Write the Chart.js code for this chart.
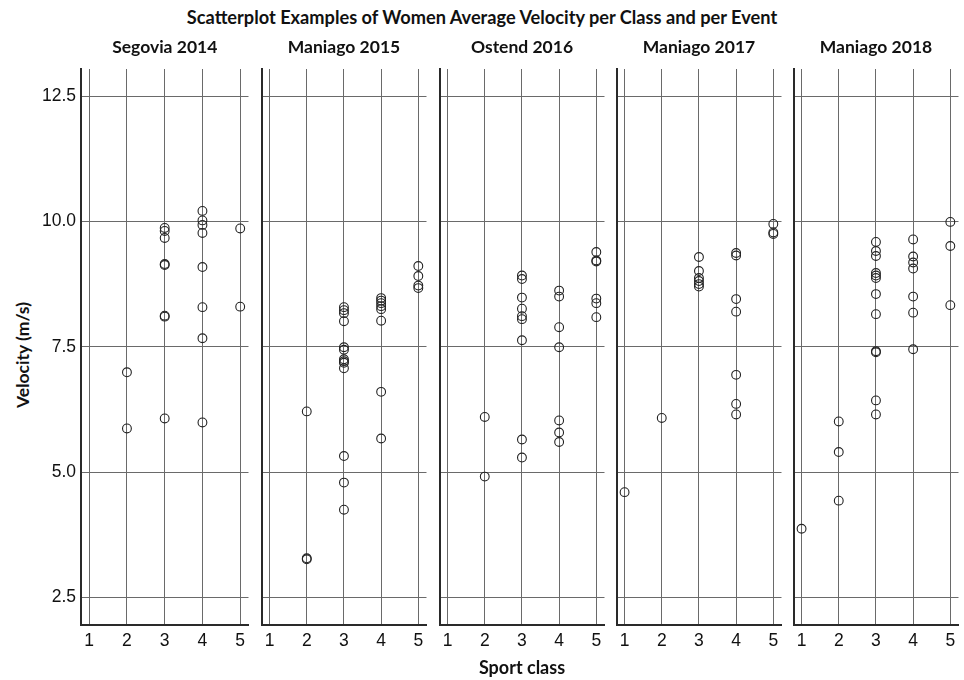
<!DOCTYPE html>
<html>
<head>
<meta charset="utf-8">
<script src="https://cdn.jsdelivr.net/npm/chart.js@4"></script>
<style>
  html, body { margin: 0; padding: 0; background: #fff; }
  body { width: 964px; height: 680px; position: relative; overflow: hidden; }
  canvas { position: absolute; top: 0; }
  #title { position: absolute; left: 0; top: 6px; width: 964px; text-align: center;
           font: bold 18.2px Lato, sans-serif; line-height: 22px; color: #111; }
  #ytitle { position: absolute; left: -78px; top: 345px; width: 200px; height: 20px;
            line-height: 20px; text-align: center; font: bold 17.5px Lato, sans-serif; color: #111;
            transform: rotate(-90deg); }
</style>
</head>
<body>
<div id="title">Scatterplot Examples of Women Average Velocity per Class and per Event</div>
<div id="ytitle">Velocity (m/s)</div>
<canvas id="p0" width="254" height="680" style="left:0px"></canvas>
<canvas id="p1" width="176" height="680" style="left:256px"></canvas>
<canvas id="p2" width="176" height="680" style="left:434px"></canvas>
<canvas id="p3" width="176" height="680" style="left:611px"></canvas>
<canvas id="p4" width="176" height="680" style="left:788px"></canvas>
<script>
// ---- data ----
const events = ['Segovia 2014', 'Maniago 2015', 'Ostend 2016', 'Maniago 2017', 'Maniago 2018'];
const xTicks = [1, 2, 3, 4, 5];
const yTicks = [2.5, 5.0, 7.5, 10.0, 12.5];

const segovia2014Class = [2, 2, 3, 3, 3, 3, 3, 3, 3, 3, 4, 4, 4, 4, 4, 4, 4, 4, 5, 5];
const segovia2014Vel   = [6.99, 5.87, 9.87, 9.81, 9.67, 9.15, 9.13, 8.12, 8.10, 6.07,
                          10.21, 10.02, 9.93, 9.77, 9.09, 8.29, 7.67, 5.99, 9.86, 8.30];

const maniago2015Class = [2, 2, 2, 3, 3, 3, 3, 3, 3, 3, 3, 3, 3, 3, 3, 3, 4, 4, 4, 4, 4, 4, 4, 4, 5, 5, 5, 5];
const maniago2015Vel   = [6.21, 3.28, 3.26,
                          8.29, 8.23, 8.17, 8.01, 7.49, 7.44, 7.25, 7.21, 7.18, 7.07, 5.32, 4.79, 4.25,
                          8.47, 8.42, 8.37, 8.31, 8.25, 8.02, 6.60, 5.67,
                          9.11, 8.91, 8.72, 8.67];

const ostend2016Class = [2, 2, 3, 3, 3, 3, 3, 3, 3, 3, 3, 4, 4, 4, 4, 4, 4, 4, 5, 5, 5, 5, 5, 5];
const ostend2016Vel   = [6.10, 4.91,
                         8.92, 8.85, 8.48, 8.26, 8.11, 8.05, 7.63, 5.65, 5.29,
                         8.62, 8.50, 7.89, 7.49, 6.03, 5.79, 5.60,
                         9.39, 9.22, 9.20, 8.46, 8.37, 8.09];

const maniago2017Class = [1, 2, 3, 3, 3, 3, 3, 3, 4, 4, 4, 4, 4, 4, 4, 5, 5, 5];
const maniago2017Vel   = [4.60, 6.08,
                          9.29, 9.01, 8.87, 8.81, 8.75, 8.70,
                          9.37, 9.32, 8.45, 8.20, 6.94, 6.36, 6.15,
                          9.95, 9.78, 9.75];

const maniago2018Class = [1, 2, 2, 2, 3, 3, 3, 3, 3, 3, 3, 3, 3, 3, 3, 3, 4, 4, 4, 4, 4, 4, 4, 5, 5, 5];
const maniago2018Vel   = [3.87, 6.01, 5.40, 4.43,
                          9.59, 9.41, 9.31, 8.97, 8.92, 8.87, 8.55, 8.15, 7.41, 7.39, 6.43, 6.15,
                          9.64, 9.30, 9.18, 9.06, 8.50, 8.18, 7.45,
                          9.99, 9.51, 8.33];

const panelClasses = [segovia2014Class, maniago2015Class, ostend2016Class, maniago2017Class, maniago2018Class];
const panelVels = [segovia2014Vel, maniago2015Vel, ostend2016Vel, maniago2017Vel, maniago2018Vel];

// ---- style ----
const gridColor = '#6a6a6a';
const axisColor = '#2a2a2a';
const textColor = '#111111';
const tickFont = { family: '"Liberation Sans", Arial, sans-serif', size: 17.5 };
const panelFont = { family: 'Lato, sans-serif', size: 17.5, weight: 'bold' };
const axisTitleFont = { family: 'Lato, sans-serif', size: 18, weight: 'bold' };

function makePanel(i) {
  const first = i === 0;
  const pts = panelClasses[i].map((x, k) => ({ x: x, y: panelVels[i][k] }));
  new Chart(document.getElementById('p' + i), {
    type: 'scatter',
    data: {
      datasets: [{
        data: pts,
        pointStyle: 'circle',
        pointRadius: 4.4,
        pointHoverRadius: 4.4,
        borderWidth: 1.1,
        borderColor: '#222',
        backgroundColor: 'rgba(0,0,0,0)'
      }]
    },
    options: {
      responsive: false,
      animation: false,
      events: [],
      layout: { padding: { left: first ? 0 : 2, right: 4, top: 0, bottom: 0 } },
      plugins: {
        legend: { display: false },
        tooltip: { enabled: false },
        title: {
          display: true,
          text: events[i],
          fullSize: false,
          color: textColor,
          font: panelFont,
          padding: { top: 37, bottom: 11 }
        }
      },
      scales: {
        x: {
          type: 'linear',
          min: 0.783,
          max: 5.22,
          afterBuildTicks: s => { s.ticks = xTicks.map(v => ({ value: v })); },
          afterFit: s => { s.height = 55; },
          ticks: {
            autoSkip: false, maxRotation: 0, minRotation: 0,
            color: textColor, font: tickFont, padding: 6,
            callback: v => String(v)
          },
          grid: { color: gridColor, lineWidth: 1, drawTicks: false },
          border: { color: axisColor, width: 2 },
          title: {
            display: i === 2,
            text: 'Sport class',
            color: textColor,
            font: axisTitleFont,
            padding: { top: 0, bottom: 1 }
          }
        },
        y: {
          type: 'linear',
          min: 1.95,
          max: 13.04,
          afterBuildTicks: s => { s.ticks = yTicks.map(v => ({ value: v })); },
          afterFit: s => { s.width = first ? 81 : 0; },
          ticks: {
            display: first,
            color: textColor, font: tickFont, padding: 5,
            callback: v => Number(v).toFixed(1)
          },
          grid: { color: gridColor, lineWidth: 1, drawTicks: false },
          border: { color: axisColor, width: 2 }
        }
      }
    }
  });
}

for (let i = 0; i < 5; i++) makePanel(i);
</script>
</body>
</html>
